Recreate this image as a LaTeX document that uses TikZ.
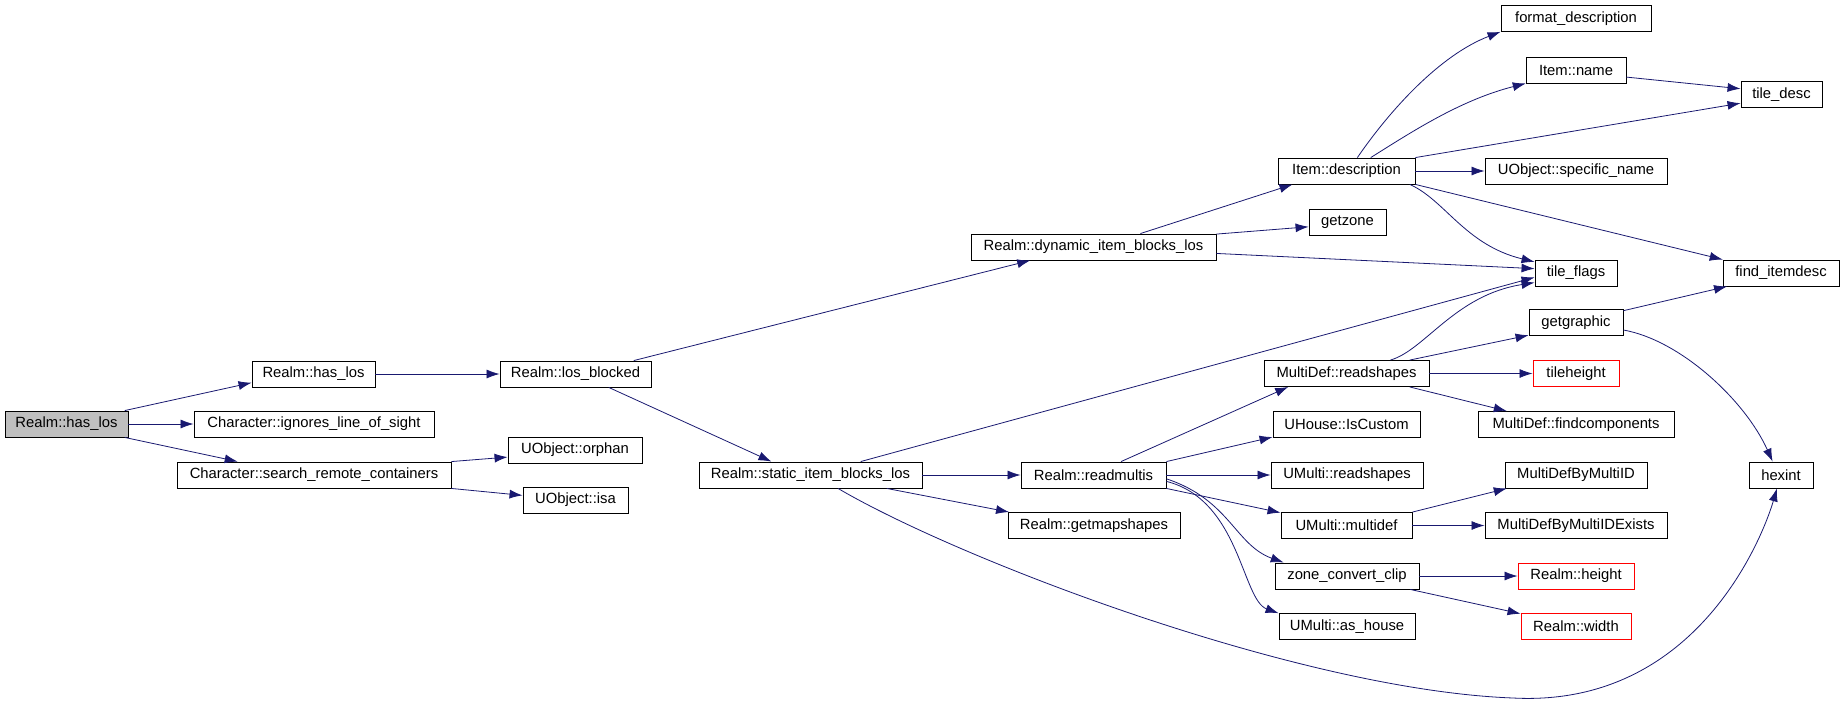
\documentclass[tikz,border=0pt]{standalone}
\usepackage{fontspec}
\setmainfont{Liberation Sans}
\usetikzlibrary{arrows.meta}
\definecolor{edgeblue}{RGB}{25,25,112}
\definecolor{rootgray}{RGB}{191,191,191}

\begin{document}
\begin{tikzpicture}[x=1pt, y=-1pt,
    fn/.style={draw=black, line width=0.9pt, minimum height=26pt, inner sep=0pt, font=\fontsize{14.8}{16}\selectfont},
    root/.style={fn, fill=rootgray}, missing/.style={fn, draw=red},
    call/.style={-{Latex[length=13pt,width=9pt]}, draw=edgeblue, line width=0.8pt}]
\useasboundingbox (0,0) rectangle (1845,705);
\node[root, minimum width=123pt] (hasLos) at (66.5,424) {Realm::has\_los};
\node[fn, minimum width=123pt] (realmHasLos) at (313.5,374) {Realm::has\_los};
\node[fn, minimum width=240pt] (ignoresLos) at (314,424) {Character::ignores\_line\_of\_sight};
\node[fn, minimum width=274pt] (searchCont) at (314,475) {Character::search\_remote\_containers};
\node[fn, minimum width=151pt] (losBlocked) at (575.5,374) {Realm::los\_blocked};
\node[fn, minimum width=134pt] (orphan) at (575,450) {UObject::orphan};
\node[fn, minimum width=105pt] (isa) at (575.5,500) {UObject::isa};
\node[fn, minimum width=245pt] (dynBlocks) at (1093.5,247) {Realm::dynamic\_item\_blocks\_los};
\node[fn, minimum width=223pt] (statBlocks) at (810.5,475) {Realm::static\_item\_blocks\_los};
\node[fn, minimum width=145pt] (readMultis) at (1093.5,475) {Realm::readmultis};
\node[fn, minimum width=172pt] (getMapShapes) at (1094,525.5) {Realm::getmapshapes};
\node[fn, minimum width=137pt] (itemDesc) at (1346.5,171) {Item::description};
\node[fn, minimum width=77pt] (getZone) at (1347.5,222) {getzone};
\node[fn, minimum width=165pt] (mdReadShapes) at (1346.5,373.5) {MultiDef::readshapes};
\node[fn, minimum width=147pt] (isCustom) at (1346.5,424) {UHouse::IsCustom};
\node[fn, minimum width=152pt] (umReadShapes) at (1347,475) {UMulti::readshapes};
\node[fn, minimum width=131pt] (multiDef) at (1346.5,525.5) {UMulti::multidef};
\node[fn, minimum width=144pt] (zoneClip) at (1347,576) {zone\_convert\_clip};
\node[fn, minimum width=136pt] (asHouse) at (1347,626.5) {UMulti::as\_house};
\node[fn, minimum width=150pt] (formatDesc) at (1576,18.5) {format\_description};
\node[fn, minimum width=100pt] (itemName) at (1576,70) {Item::name};
\node[fn, minimum width=182pt] (specName) at (1576,171) {UObject::specific\_name};
\node[fn, minimum width=82pt] (tileFlags) at (1576,273) {tile\_flags};
\node[fn, minimum width=94pt] (getGraphic) at (1576,322.5) {getgraphic};
\node[missing, minimum width=86pt] (tileHeight) at (1576,373.5) {tileheight};
\node[fn, minimum width=196pt] (findComp) at (1576,424.5) {MultiDef::findcomponents};
\node[fn, minimum width=142pt] (mdById) at (1576,475) {MultiDefByMultiID};
\node[fn, minimum width=182pt] (mdByIdExists) at (1576,525.5) {MultiDefByMultiIDExists};
\node[missing, minimum width=116pt] (realmHeight) at (1576,576) {Realm::height};
\node[missing, minimum width=110pt] (realmWidth) at (1576,626.5) {Realm::width};
\node[fn, minimum width=81pt] (tileDesc) at (1781.5,94.5) {tile\_desc};
\node[fn, minimum width=116pt] (findItemDesc) at (1781,273) {find\_itemdesc};
\node[fn, minimum width=64pt] (hexint) at (1781,475) {hexint};
% calls out of Realm::has_los
\draw[call] (hasLos.13) -- (realmHasLos.188);
\draw[call] (hasLos.east) -- (ignoresLos.west);
\draw[call] (hasLos.347) -- (searchCont.170);
\draw[call] (realmHasLos.east) -- (losBlocked.west);
\draw[call] (losBlocked.13) -- (dynBlocks.192);
\draw[call] (losBlocked.338) -- (statBlocks.161);
\draw[call] (searchCont.north east) -- (orphan.186);
\draw[call] (searchCont.south east) -- (isa.175);
% dynamic / static item checks
\draw[call] (dynBlocks.16) -- (itemDesc.194);
\draw[call] (dynBlocks.6) -- (getZone.187);
\draw[call] (dynBlocks.357) -- (tileFlags.174);
\draw[call] (statBlocks.15) -- (tileFlags.186);
\draw[call] (statBlocks.east) -- (readMultis.west);
\draw[call] (statBlocks.350) -- (getMapShapes.171);
\draw[call] (statBlocks.334) .. controls (960,560) and (1300,690) .. (1513,698) .. controls (1700,708) and (1765,530) .. (hexint.253);
% readmultis
\draw[call] (readMultis.26) -- (mdReadShapes.193);
\draw[call] (readMultis.north east) -- (isCustom.190);
\draw[call] (readMultis.east) -- (umReadShapes.west);
\draw[call] (readMultis.south east) -- (multiDef.169);
\draw[call] (readMultis.357) .. controls (1230,500) and (1235,545) .. (zoneClip.168);
\draw[call] (readMultis.355) .. controls (1240,500) and (1242,600) .. (asHouse.169);
% item description
\draw[call] (itemDesc.51) .. controls (1390,110) and (1440,55) .. (formatDesc.190);
\draw[call] (itemDesc.29) .. controls (1410,133) and (1460,100) .. (itemName.195);
\draw[call] (itemDesc.north east) -- (tileDesc.192);
\draw[call] (itemDesc.east) -- (specName.west);
\draw[call] (itemDesc.348) .. controls (1445,200) and (1465,245) .. (tileFlags.165);
\draw[call] (itemDesc.south east) -- (findItemDesc.167);
\draw[call] (itemName.352) -- (tileDesc.172);
% multidef shapes
\draw[call] (mdReadShapes.17) .. controls (1425,350) and (1455,295) .. (tileFlags.193);
\draw[call] (mdReadShapes.12) -- (getGraphic.195);
\draw[call] (mdReadShapes.east) -- (tileHeight.west);
\draw[call] (mdReadShapes.348) -- (findComp.169);
\draw[call] (getGraphic.14) -- (findItemDesc.194);
\draw[call] (getGraphic.351) .. controls (1680,340) and (1745,400) .. (hexint.122);
\draw[call] (multiDef.north east) -- (mdById.191);
\draw[call] (multiDef.east) -- (mdByIdExists.west);
\draw[call] (zoneClip.east) -- (realmHeight.west);
\draw[call] (zoneClip.348) -- (realmWidth.167);
\end{tikzpicture}
\end{document}
